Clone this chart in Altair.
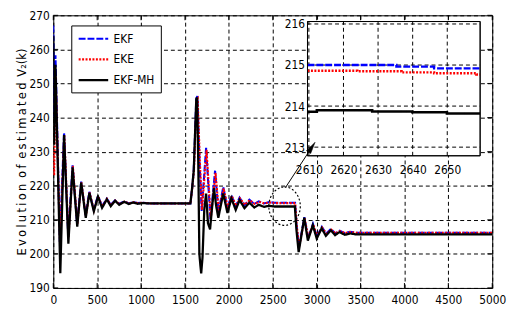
import altair as alt
import pandas as pd

FONT = "Liberation Sans Narrow, Arial Narrow, DejaVu Sans Condensed, sans-serif"

SERIES = ["EKF", "EKE", "EKF-MH"]
COLORS = ["#0000ff", "#ff0000", "#000000"]
DASHES = [[7, 2], [2, 1.5], [1, 0]]

X_TICKS = list(range(0, 5001, 500))
Y_TICKS = list(range(190, 271, 10))
X_DOMAIN = [0, 5000]
Y_DOMAIN = [190, 270]

INSET_X_TICKS = [2610, 2620, 2630, 2640, 2650]
INSET_Y_TICKS = [213, 214, 215, 216]
INSET_X_DOMAIN = [2609.6, 2659.5]
INSET_Y_DOMAIN = [212.79, 216.06]

TITLE_WORDS = ["Evolution", "of", "estimated"]
TITLE_TAIL = "V\u2082(k)"
Y_TITLE = "\u2002".join("\u2009".join(w) for w in TITLE_WORDS) + "\u2002" + TITLE_TAIL

# ---- main series ----
mh_t = [0, 10, 25, 80, 123, 172, 220, 273, 318, 370, 411, 462, 509, 556, 610, 655, 704, 751, 809, 860, 910, 960, 1020, 1100,
        1562, 1581, 1600, 1629, 1638, 1652, 1664, 1676, 1685, 1700, 1720, 1741, 1762, 1786, 1810, 1831, 1856, 1880, 1936, 1984,
        2029, 2078, 2122, 2178, 2234, 2290, 2340, 2400, 2460, 2520, 2752,
        2770, 2795, 2830, 2859, 2900, 2956, 3001, 3057, 3105, 3161, 3210, 3260, 3320, 3380, 3450, 5000]
mh_v = [264.0, 232.0, 255.5, 194.3, 234.9, 203.0, 225.4, 208.0, 220.9, 210.6, 217.9, 212.5, 216.8, 213.5, 216.0, 214.0, 215.6, 214.4, 215.3, 214.6, 215.1, 214.7, 214.9, 214.8,
        214.8, 219.2, 224.4, 245.4, 245.9, 226.0, 200.0, 196.5, 194.3, 199.0, 213.0, 217.7, 209.0, 207.2, 214.0, 219.2, 214.0, 210.6, 217.7, 212.0,
        216.3, 212.9, 215.8, 213.4, 215.0, 213.6, 214.4, 213.8, 214.1, 213.9, 213.9,
        207.0, 200.5, 206.0, 210.6, 203.9, 208.4, 204.5, 207.5, 205.3, 206.9, 205.5, 206.4, 205.6, 206.0, 205.7, 205.7]

ekf_t = [0, 12, 25, 75, 123, 170, 220, 271, 318, 368, 411, 460, 509, 556, 610, 655, 704, 751, 809, 860, 910, 960, 1020, 1100,
         1562, 1581, 1600, 1629, 1641, 1665, 1690, 1741, 1790, 1843, 1882, 1936, 1984, 2029, 2078, 2122, 2178, 2234, 2290, 2340,
         2400, 2460, 2520, 2754,
         2772, 2798, 2860, 2902, 2958, 3003, 3059, 3107, 3163, 3212, 3262, 3320, 3380, 3450, 5000]
ekf_v = [267.0, 240.0, 258.3, 203.5, 235.6, 205.5, 226.0, 209.0, 221.2, 211.3, 218.2, 213.0, 217.0, 214.0, 216.2, 214.4, 215.7, 214.7, 215.4, 214.8, 215.2, 214.9, 215.0, 214.8,
         214.8, 219.2, 224.6, 245.6, 246.3, 228.0, 212.6, 231.1, 210.0, 224.4, 212.2, 219.6, 213.4, 217.2, 214.0, 216.5, 214.3, 215.9, 214.6, 215.4,
         214.8, 215.2, 215.0, 215.0,
         208.0, 201.8, 210.8, 204.6, 208.8, 205.1, 207.9, 205.9, 207.3, 206.0, 206.8, 206.1, 206.5, 206.2, 206.2]

eke_t = [0, 10, 27, 77, 125, 173, 223, 274, 320, 371, 413, 463, 511, 558, 612, 657, 706, 753, 811, 862, 912, 962, 1022, 1100,
         1562, 1583, 1603, 1632, 1645, 1668, 1694, 1746, 1794, 1848, 1886, 1940, 1988, 2033, 2082, 2126, 2182, 2238, 2294, 2344,
         2404, 2464, 2524, 2756,
         2774, 2800, 2863, 2905, 2961, 3006, 3062, 3110, 3166, 3215, 3265, 3323, 3383, 3453, 5000]
eke_v = [230.0, 223.0, 252.0, 203.0, 235.0, 205.0, 225.8, 208.8, 221.0, 211.0, 218.0, 212.8, 216.9, 213.9, 216.1, 214.3, 215.6, 214.6, 215.3, 214.8, 215.1, 214.9, 215.0, 214.8,
         214.8, 219.3, 224.8, 245.0, 245.5, 228.5, 212.9, 230.5, 210.3, 223.8, 212.5, 219.2, 213.6, 217.0, 214.1, 216.3, 214.4, 215.8, 214.6, 215.3,
         214.8, 215.1, 214.9, 214.9,
         208.2, 202.0, 210.5, 204.8, 208.6, 205.2, 207.7, 205.9, 207.1, 206.0, 206.7, 206.1, 206.4, 206.2, 206.2]

# ---- inset series (zoom on 2610..2660) ----
ins_ekf_t = [2609.6, 2635.3, 2646.2, 2659.5]
ins_ekf_v = [215.00, 214.96, 214.92, 214.92]
ins_eke_t = [2609.6, 2624.0, 2636.8, 2646.2, 2658.4, 2659.5]
ins_eke_v = [214.86, 214.85, 214.82, 214.80, 214.77, 214.77]
ins_mh_t = [2609.6, 2612.3, 2628.3, 2639.9, 2649.9, 2659.5]
ins_mh_v = [213.86, 213.90, 213.87, 213.85, 213.82, 213.82]

# ---- annotation (circle + arrow) in data units ----
CIRCLE_T, CIRCLE_V = 2634.5, 214.0
ARROW_T0, ARROW_V0 = 2646, 219.5
ARROW_T1, ARROW_V1 = 2945, 231.3

W, H = 446, 277
INSET_RANGE_X = [258.3, 433.7]
INSET_RANGE_Y = [142.7, 6.3]


def frame(name, t, v):
    assert len(t) == len(v), name
    return pd.DataFrame({"t": t, "v": v, "series": name})


main_df = pd.concat([frame("EKF", ekf_t, ekf_v), frame("EKE", eke_t, eke_v),
                     frame("EKF-MH", mh_t, mh_v)], ignore_index=True)
inset_df = pd.concat([frame("EKF", ins_ekf_t, ins_ekf_v), frame("EKE", ins_eke_t, ins_eke_v),
                      frame("EKF-MH", ins_mh_t, ins_mh_v)], ignore_index=True)


def xs():
    return alt.Scale(domain=X_DOMAIN, range=[0, W], nice=False, zero=False)


def ys():
    return alt.Scale(domain=Y_DOMAIN, range=[H, 0], nice=False, zero=False)


def ixs():
    return alt.Scale(domain=INSET_X_DOMAIN, range=INSET_RANGE_X, nice=False, zero=False)


def iys():
    return alt.Scale(domain=INSET_Y_DOMAIN, range=INSET_RANGE_Y, nice=False, zero=False)


LEGEND_LINE = "M-2.5,0L2.5,0"


def legend():
    return alt.Legend(title=None, orient="none", legendX=18.3, legendY=10.3,
                      symbolType=LEGEND_LINE, symbolSize=144, symbolOffset=9,
                      symbolStrokeWidth=2.2, symbolFillColor="transparent",
                      labelFontSize=12, labelFont=FONT, labelColor="black", labelOffset=13,
                      padding=6, rowPadding=7, strokeColor="black",
                      fillColor="white", cornerRadius=0)


def color():
    return alt.Color("series:N", scale=alt.Scale(domain=SERIES, range=COLORS), legend=legend())


def dash():
    return alt.StrokeDash("series:N", scale=alt.Scale(domain=SERIES, range=DASHES), legend=legend())


x_axis = alt.Axis(values=X_TICKS, format="d", grid=True, gridDash=[4, 3], gridColor="black",
                  gridOpacity=1, gridWidth=1, ticks=False, tickSize=0, domain=False,
                  labelPadding=7, labelFontSize=12, labelFont=FONT, labelColor="black",
                  labelFlush=False, title=None, orient="bottom")
y_axis = alt.Axis(values=Y_TICKS, format="d", grid=True, gridDash=[4, 3], gridColor="black",
                  gridOpacity=1, gridWidth=1, ticks=False, tickSize=0, domain=False,
                  labelPadding=4, labelFontSize=12, labelFont=FONT, labelColor="black",
                  title=Y_TITLE, titleFont=FONT, titleFontSize=13, titleFontWeight="normal",
                  titleColor="black", titlePadding=1, orient="left")

layers = []

# main series lines (first one carries the main axes)
base = alt.Chart(main_df)
for i, s in enumerate(SERIES):
    layers.append(
        base.transform_filter(alt.datum.series == s)
        .mark_line(strokeWidth=2.3 if s == "EKF-MH" else 2.1, clip=True)
        .encode(
            x=alt.X("t:Q", scale=xs(), axis=x_axis if i == 0 else None),
            y=alt.Y("v:Q", scale=ys(), axis=y_axis if i == 0 else None),
            color=color(), strokeDash=dash(), order="t:Q",
        )
    )

# inward ticks on all four sides
xt = pd.DataFrame({"t": X_TICKS})
yt = pd.DataFrame({"v": Y_TICKS})
layers.append(alt.Chart(xt).mark_rule(color="black").encode(
    x=alt.X("t:Q", scale=xs(), axis=None), y=alt.value(H), y2=alt.value(H - 5)))
layers.append(alt.Chart(xt).mark_rule(color="black").encode(
    x=alt.X("t:Q", scale=xs(), axis=None), y=alt.value(0), y2=alt.value(5)))
layers.append(alt.Chart(yt).mark_rule(color="black").encode(
    y=alt.Y("v:Q", scale=ys(), axis=None), x=alt.value(0), x2=alt.value(5)))
layers.append(alt.Chart(yt).mark_rule(color="black").encode(
    y=alt.Y("v:Q", scale=ys(), axis=None), x=alt.value(W), x2=alt.value(W - 5)))

# dashed ellipse around the zoomed region
ELLIPSE = "M0,-1A0.82,1,0,1,1,0,1A0.82,1,0,1,1,0,-1Z"
layers.append(alt.Chart(pd.DataFrame({"t": [CIRCLE_T], "v": [CIRCLE_V]})).mark_point(
    shape=ELLIPSE, size=1521, filled=False, stroke="black", strokeWidth=1.2,
    strokeDash=[2, 2], opacity=1).encode(
    x=alt.X("t:Q", scale=xs(), axis=None), y=alt.Y("v:Q", scale=ys(), axis=None)))

# ---- inset ----
box_df = pd.DataFrame({"x0": [INSET_X_DOMAIN[0]], "x1": [INSET_X_DOMAIN[1]],
                       "y0": [INSET_Y_DOMAIN[0]], "y1": [INSET_Y_DOMAIN[1]]})
ix_axis = alt.Axis(orient="bottom", offset=-(H - INSET_RANGE_Y[0]), values=INSET_X_TICKS,
                   format="d", grid=False, ticks=False, tickSize=0, domain=False,
                   labelPadding=9, labelFontSize=12, labelFont=FONT, labelColor="black",
                   labelFlush=False, title=None)
iy_axis = alt.Axis(orient="left", offset=-INSET_RANGE_X[0], values=INSET_Y_TICKS,
                   format="d", grid=False, ticks=False, tickSize=0, domain=False,
                   labelPadding=3, labelFontSize=12, labelFont=FONT, labelColor="black",
                   title=None)
layers.append(alt.Chart(box_df).mark_rect(fill="white", stroke="black", strokeWidth=1).encode(
    x=alt.X("x0:Q", scale=ixs(), axis=ix_axis), x2="x1:Q",
    y=alt.Y("y0:Q", scale=iys(), axis=iy_axis), y2="y1:Q"))
igx = pd.DataFrame({"t": INSET_X_TICKS, "y0": INSET_Y_DOMAIN[0], "y1": INSET_Y_DOMAIN[1]})
igy = pd.DataFrame({"v": INSET_Y_TICKS, "x0": INSET_X_DOMAIN[0], "x1": INSET_X_DOMAIN[1]})
layers.append(alt.Chart(igx).mark_rule(color="black", strokeDash=[4, 3], strokeWidth=1).encode(
    x=alt.X("t:Q", scale=ixs(), axis=None), y=alt.Y("y0:Q", scale=iys(), axis=None), y2="y1:Q"))
layers.append(alt.Chart(igy).mark_rule(color="black", strokeDash=[4, 3], strokeWidth=1).encode(
    y=alt.Y("v:Q", scale=iys(), axis=None), x=alt.X("x0:Q", scale=ixs(), axis=None), x2="x1:Q"))
ibase = alt.Chart(inset_df)
for s in SERIES:
    layers.append(
        ibase.transform_filter(alt.datum.series == s)
        .mark_line(strokeWidth=2.6 if s == "EKF-MH" else 2.4, interpolate="step-after")
        .encode(x=alt.X("t:Q", scale=ixs(), axis=None), y=alt.Y("v:Q", scale=iys(), axis=None),
                color=color(), strokeDash=dash(), order="t:Q")
    )
layers.append(alt.Chart(box_df).mark_rect(fillOpacity=0, stroke="black", strokeWidth=1).encode(
    x=alt.X("x0:Q", scale=ixs(), axis=None), x2="x1:Q",
    y=alt.Y("y0:Q", scale=iys(), axis=None), y2="y1:Q"))

# ---- arrow ----
arrow_df = pd.DataFrame({"t0": [ARROW_T0], "v0": [ARROW_V0], "t1": [ARROW_T1], "v1": [ARROW_V1]})
layers.append(alt.Chart(arrow_df).mark_rule(color="black", strokeWidth=1).encode(
    x=alt.X("t0:Q", scale=xs(), axis=None), x2="t1:Q",
    y=alt.Y("v0:Q", scale=ys(), axis=None), y2="v1:Q"))
layers.append(alt.Chart(arrow_df).mark_point(
    shape="M0,-1L0.42,1L-0.42,1Z", size=144, filled=True, fill="black", stroke="black",
    strokeWidth=0.5, opacity=1, angle=33).encode(
    x=alt.X("t1:Q", scale=xs(), axis=None), y=alt.Y("v1:Q", scale=ys(), axis=None)))

chart = (
    alt.layer(*layers)
    .resolve_scale(x="independent", y="independent")
    .properties(width=W, height=H, padding={"left": 46, "top": 5, "right": 15, "bottom": 22},
                autosize=alt.AutoSizeParams(type="none"), background="white")
    .configure_view(stroke="black", strokeWidth=1)
)

chart.save("out.html", embed_options={"renderer": "svg", "actions": False})
